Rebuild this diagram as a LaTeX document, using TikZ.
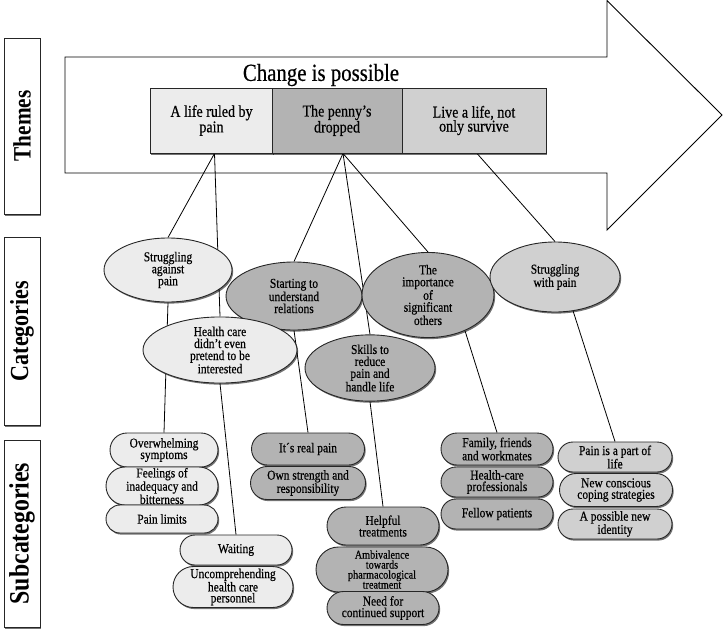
\documentclass[tikz,border=0pt]{standalone}
\usepackage{fontspec}
\setmainfont{Liberation Serif}[FakeStretch=0.85]
\newfontfamily\heavy{Liberation Serif}[FakeStretch=0.85,FakeBold=0.5]
\usetikzlibrary{shapes.geometric,shapes.misc,shadows}
\definecolor{lightf}{HTML}{ECECEC}
\definecolor{darkf}{HTML}{B3B3B3}
\definecolor{midf}{HTML}{D0D0D0}
\pgfdeclarelayer{arrowlayer}
\pgfdeclarelayer{bg}
\pgfsetlayers{arrowlayer,bg,main}
\tikzset{
 shad/.style={drop shadow={shadow xshift=1.2pt,shadow yshift=-1.6pt,opacity=0.55,fill=black}},
 ell/.style={ellipse,draw=black!85,line width=0.9pt,shad,inner sep=0pt,align=center,font=\heavy\fontsize{13.5}{12}\selectfont},
 pill/.style={rounded rectangle,draw=black!85,line width=0.9pt,shad,inner sep=0pt,align=center,font=\heavy\fontsize{13.5}{11.5}\selectfont},
 thm/.style={rectangle,draw=black!85,line width=0.9pt,shad,inner sep=0pt,align=center,minimum height=65pt,font=\heavy\fontsize{16.5}{14}\selectfont},
 lbl/.style={rectangle,draw=black!85,line width=0.9pt,shad,fill=white,inner sep=0pt,minimum height=36pt},
 conn/.style={draw=black,line width=0.8pt},
}
\begin{document}
\begin{tikzpicture}[x=1pt,y=-1pt]
\useasboundingbox (0,0) rectangle (725,632);
% big arrow
\begin{pgfonlayer}{arrowlayer}
\draw[line width=0.9pt,fill=white] (65,57) -- (607,57) -- (607,0.6) -- (722,115) -- (607,230) -- (607,173) -- (65,173) -- cycle;
\end{pgfonlayer}
% left labels
\node[lbl,rotate=90,minimum width=176pt,font=\bfseries\fontsize{25}{25}\selectfont] (lt) at (22,126) {Themes};
\node[lbl,rotate=90,minimum width=188pt,font=\bfseries\fontsize{26}{26}\selectfont] (lc) at (22,331) {Categories};
\node[lbl,rotate=90,minimum width=187pt,font=\bfseries\fontsize{28}{28}\selectfont] (ls) at (22,533.5) {Subcategories};
% title
\node[font=\heavy\fontsize{24.5}{26}\selectfont,inner sep=0pt] (title) at (321,75) {Change is possible};
% themes
\node[thm,fill=lightf,minimum width=123pt] (t1) at (211.5,120.5) {A life ruled by\\pain};
\node[thm,fill=darkf,minimum width=130pt] (t2) at (337,120.5) {The penny’s\\dropped};
\node[thm,fill=midf,minimum width=144pt] (t3) at (474,120.5) {Live a life, not\\only survive};
% categories
\node[ell,fill=lightf,minimum width=128pt,minimum height=64pt] (e1) at (168,270) {Struggling\\against\\pain};
\node[ell,fill=darkf,minimum width=136pt,minimum height=68pt] (e2) at (294,296) {Starting to\\understand\\relations};
\node[ell,fill=darkf,minimum width=132pt,minimum height=70pt] (e5) at (428,295) {The\\importance\\of\\significant\\others};
\node[ell,fill=midf,minimum width=130pt,minimum height=70pt] (e6) at (555,277) {Struggling\\with pain};
\node[ell,fill=lightf,minimum width=154pt,minimum height=64pt] (e3) at (220,350) {Health care\\didn’t even\\pretend to be\\interested};
\node[ell,fill=darkf,minimum width=130pt,minimum height=62pt] (e4) at (370,368) {Skills to\\reduce\\pain and\\handle life};
% subcategories
\node[pill,fill=lightf,minimum width=108pt,minimum height=34pt] (ov) at (164,450) {Overwhelming\\symptoms};
\node[pill,fill=lightf,minimum width=112pt,minimum height=38pt,font=\heavy\fontsize{13.5}{10.8}\selectfont] (fe) at (162,486) {Feelings of\\inadequacy and\\bitterness};
\node[pill,fill=lightf,minimum width=112pt,minimum height=28pt] (pl) at (162,519) {Pain limits};
\node[pill,fill=lightf,minimum width=112pt,minimum height=30pt] (wa) at (236,550) {Waiting};
\node[pill,fill=lightf,minimum width=120pt,minimum height=41pt,font=\heavy\fontsize{13.5}{11}\selectfont] (un) at (233,587) {Uncomprehending\\health care\\personnel};
\node[pill,fill=darkf,minimum width=113pt,minimum height=32pt] (ir) at (308,449) {It´s real pain};
\node[pill,fill=darkf,minimum width=115pt,minimum height=33pt] (os) at (308,483) {Own strength and\\responsibility};
\node[pill,fill=darkf,minimum width=112pt,minimum height=38pt] (ht) at (383,526) {Helpful\\treatments};
\node[pill,fill=darkf,minimum width=132pt,minimum height=45pt,font=\heavy\fontsize{12}{10}\selectfont] (am) at (382,569.5) {Ambivalence\\towards\\pharmacological\\treatment};
\node[pill,fill=darkf,minimum width=112pt,minimum height=33pt] (nc) at (383,608) {Need for\\continued support};
\node[pill,fill=darkf,minimum width=112pt,minimum height=32pt] (ff) at (497,449) {Family, friends\\and workmates};
\node[pill,fill=darkf,minimum width=112pt,minimum height=30pt] (hc) at (497,482) {Health-care\\professionals};
\node[pill,fill=darkf,minimum width=112pt,minimum height=30pt] (fp) at (497,514) {Fellow patients};
\node[pill,fill=midf,minimum width=114pt,minimum height=30pt] (pp) at (615,457) {Pain is a part of\\life};
\node[pill,fill=midf,minimum width=113pt,minimum height=33pt] (nw) at (616,490) {New conscious\\coping strategies};
\node[pill,fill=midf,minimum width=114pt,minimum height=30pt] (ap) at (615,524) {A possible new\\identity};
% connectors
\begin{pgfonlayer}{bg}
\coordinate (p1) at ([xshift=3pt]t1.south);
\coordinate (p2) at ([xshift=6pt]t2.south);
\coordinate (p3) at ([xshift=3pt]t3.south);
\draw[conn] (p1) -- (e1.north);
\draw[conn] (p1) -- (e3.north);
\draw[conn] (p2) -- (e2.north);
\draw[conn] (p2) -- (e4.north);
\draw[conn] (p2) -- (e5.north);
\draw[conn] (p3) -- (e6.north);
\draw[conn] (e1.south) -- (ov.north);
\draw[conn] (e3.south) -- (wa.north);
\draw[conn] (e2.south) -- (ir.north);
\draw[conn] (e4.south) -- (ht.north);
\draw[conn] (e5.-44) -- (ff.north);
\draw[conn] (e6.-62) -- (pp.north);
\end{pgfonlayer}
\end{tikzpicture}
\end{document}
